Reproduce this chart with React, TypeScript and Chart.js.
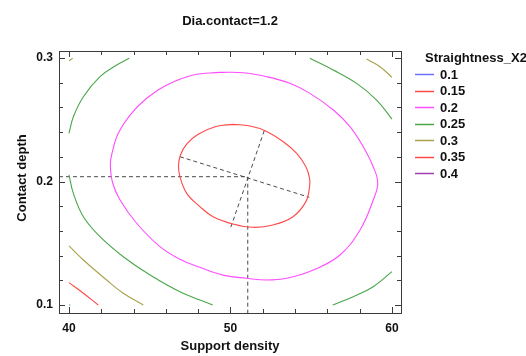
import React, { useEffect, useRef } from "react";
import Chart from "chart.js/auto";

const TITLE = "Dia.contact=1.2";
const X_TITLE = "Support density";
const Y_TITLE = "Contact depth";
const LEGEND_TITLE = "Straightness_X2";

const X_TICKS = [40, 42, 44, 46, 48, 50, 52, 54, 56, 58, 60];
const X_LABELS = ["40", "50", "60"];
const X_LABEL_VALUES = [40, 50, 60];
const Y_TICKS = [0.1, 0.12, 0.14, 0.16, 0.18, 0.2, 0.22, 0.24, 0.26, 0.28, 0.3];
const Y_LABELS = ["0.1", "0.2", "0.3"];
const Y_LABEL_VALUES = [0.1, 0.2, 0.3];

const LEVELS = ["0.1", "0.15", "0.2", "0.25", "0.3", "0.35", "0.4"];
const LEVEL_COLORS = ["#6a74ff", "#ff4848", "#ff4cff", "#4aa64a", "#a9a24a", "#ff4848", "#a43cb4"];

// contour at 0.15 (closed)
const C015: number[][] = [
  [50.17, 0.2463], [51.21, 0.2449], [52.14, 0.2411], [53.27, 0.2322], [54.1, 0.2228],
  [54.67, 0.212], [54.9, 0.2026], [54.9, 0.1958], [54.66, 0.1835], [53.87, 0.1715],
  [52.63, 0.1648], [51.39, 0.1629], [50.15, 0.1656], [48.92, 0.1715], [48.11, 0.1796],
  [47.29, 0.1904], [46.87, 0.2039], [46.78, 0.2125], [46.9, 0.2215], [47.3, 0.2305],
  [48.0, 0.2383], [49.1, 0.2445], [50.17, 0.2463],
];
// contour at 0.2 (closed)
const C020: number[][] = [
  [49.35, 0.2884], [50.79, 0.2881], [52.24, 0.2849], [53.68, 0.2795], [54.92, 0.2714],
  [56.37, 0.2579], [57.4, 0.2444], [58.22, 0.2282], [58.84, 0.212],
  [59.12, 0.1988], [58.84, 0.185], [58.02, 0.1607], [56.78, 0.1405],
  [55.13, 0.1283], [53.48, 0.1216], [52.24, 0.1202], [51.0, 0.1216], [49.6, 0.124],
  [48.11, 0.1305], [46.8, 0.1375], [45.63, 0.1472], [44.19, 0.1662], [43.16, 0.185],
  [42.7, 0.199], [42.56, 0.2135], [42.66, 0.2228], [43.05, 0.239],
  [43.78, 0.2538], [44.81, 0.2674], [46.05, 0.2781], [47.7, 0.2862], [49.35, 0.2884],
];
// contours at 0.25
const C025_TL: number[][] = [
  [40.0, 0.239], [40.27, 0.2525], [40.89, 0.2687], [41.92, 0.2849], [42.95, 0.2943], [43.73, 0.2998],
];
const C025_TR: number[][] = [
  [54.92, 0.2998], [56.37, 0.2903], [57.81, 0.2795], [59.05, 0.266], [60.0, 0.2506],
];
const C025_BL: number[][] = [
  [40.0, 0.2053], [40.27, 0.1904], [40.89, 0.1715], [41.92, 0.1553], [43.36, 0.1391],
  [45.02, 0.1243], [46.87, 0.1108], [48.9, 0.1],
];
const C025_BR: number[][] = [
  [56.33, 0.1], [57.6, 0.1067], [58.84, 0.1148], [60.0, 0.127],
];
const C025_DOT: number[][] = [[40.0, 0.1], [40.05, 0.1004]];
// contours at 0.3
const C030_BL: number[][] = [
  [40.0, 0.1478], [40.89, 0.1364], [42.33, 0.1202], [43.36, 0.1095], [44.6, 0.1],
];
const C030_TR: number[][] = [[58.43, 0.2992], [59.26, 0.293], [60.0, 0.2844]];
const C030_TL: number[][] = [[40.0, 0.2978], [40.23, 0.2998]];
// contour at 0.35
const C035_BL: number[][] = [[40.0, 0.1181], [40.89, 0.1095], [41.81, 0.1]];

// optimum and principal axes
const CENTER = [51.07, 0.2039];
const AXIS_A: number[][] = [[46.87, 0.2201], [54.88, 0.1872]];
const AXIS_B: number[][] = [[52.09, 0.2411], [50.01, 0.1626]];

const X_MIN = 39.38;
const X_MAX = 60.56;
const Y_MIN = 0.0935;
const Y_MAX = 0.3057;

const toPts = (arr: number[][]) => arr.map(([x, y]) => ({ x, y }));

export default function App() {
  const ref = useRef<HTMLCanvasElement | null>(null);

  useEffect(() => {
    const canvas = ref.current;
    if (!canvas) return;

    const contour = (arr: number[][], color: string, tension = 0.4) => ({
      data: toPts(arr),
      borderColor: color,
      backgroundColor: color,
      borderWidth: 1.1,
      pointRadius: 0,
      showLine: true,
      tension,
      fill: false,
    });
    const dashed = (arr: number[][]) => ({
      data: toPts(arr),
      borderColor: "#4a4a4a",
      borderWidth: 1,
      borderDash: [4, 3],
      pointRadius: 0,
      showLine: true,
      tension: 0,
      fill: false,
    });

    const framePlugin = {
      id: "framePlugin",
      afterDraw(chart: any) {
        const ctx = chart.ctx;
        const { left, right, top, bottom } = chart.chartArea;
        const xs = chart.scales.x;
        const ys = chart.scales.y;
        ctx.save();
        ctx.strokeStyle = "#3c3c3c";
        ctx.lineWidth = 1;
        ctx.strokeRect(Math.round(left) + 0.5, Math.round(top) + 0.5, Math.round(right - left), Math.round(bottom - top));
        ctx.beginPath();
        X_TICKS.forEach((v) => {
          const px = Math.round(xs.getPixelForValue(v)) + 0.5;
          const len = X_LABEL_VALUES.includes(v) ? 6 : 4;
          ctx.moveTo(px, bottom);
          ctx.lineTo(px, bottom - len);
          ctx.moveTo(px, top);
          ctx.lineTo(px, top + len);
        });
        Y_TICKS.forEach((v) => {
          const py = Math.round(ys.getPixelForValue(v)) + 0.5;
          const major = Y_LABEL_VALUES.some((m) => Math.abs(m - v) < 1e-9);
          const len = major ? 6 : 4;
          ctx.moveTo(left, py);
          ctx.lineTo(left + len, py);
          ctx.moveTo(right, py);
          ctx.lineTo(right - len, py);
        });
        ctx.stroke();

        ctx.fillStyle = "#111";
        ctx.font = "bold 12px 'Liberation Sans', Arial, sans-serif";
        ctx.textAlign = "center";
        ctx.textBaseline = "middle";
        X_LABELS.forEach((t, i) => {
          ctx.fillText(t, xs.getPixelForValue(X_LABEL_VALUES[i]), bottom + 16);
        });
        ctx.textAlign = "right";
        Y_LABELS.forEach((t, i) => {
          ctx.fillText(t, left - 6, ys.getPixelForValue(Y_LABEL_VALUES[i]));
        });

        ctx.font = "bold 13px 'Liberation Sans', Arial, sans-serif";
        ctx.textAlign = "center";
        ctx.fillText(X_TITLE, (left + right) / 2, bottom + 33);
        ctx.fillText(TITLE, 230, 21);
        ctx.save();
        ctx.translate(22, 178);
        ctx.rotate(-Math.PI / 2);
        ctx.fillText(Y_TITLE, 0, 0);
        ctx.restore();

        ctx.textAlign = "left";
        ctx.fillText(LEGEND_TITLE, 425, 58);
        LEVELS.forEach((lv, i) => {
          const y = 74 + i * 16.5;
          ctx.strokeStyle = LEVEL_COLORS[i];
          ctx.lineWidth = 1.5;
          ctx.beginPath();
          ctx.moveTo(415, Math.round(y) + 0.5);
          ctx.lineTo(434, Math.round(y) + 0.5);
          ctx.stroke();
          ctx.fillStyle = "#111";
          ctx.fillText(lv, 440, y + 1);
        });
        ctx.restore();
      },
    };

    const chart = new Chart(canvas, {
      type: "scatter",
      data: {
        datasets: [
          contour(C015, LEVEL_COLORS[1]),
          contour(C020, LEVEL_COLORS[2]),
          contour(C025_TL, LEVEL_COLORS[3]),
          contour(C025_TR, LEVEL_COLORS[3]),
          contour(C025_BL, LEVEL_COLORS[3]),
          contour(C025_BR, LEVEL_COLORS[3]),
          contour(C025_DOT, LEVEL_COLORS[3], 0),
          contour(C030_BL, LEVEL_COLORS[4]),
          contour(C030_TR, LEVEL_COLORS[4]),
          contour(C030_TL, LEVEL_COLORS[4], 0),
          contour(C035_BL, LEVEL_COLORS[5]),
          dashed([[X_MIN, CENTER[1]], CENTER]),
          dashed([CENTER, [CENTER[0], Y_MIN]]),
          dashed(AXIS_A),
          dashed(AXIS_B),
        ] as any,
      },
      options: {
        animation: false,
        responsive: false,
        maintainAspectRatio: false,
        layout: { padding: { left: 59, top: 51, right: 125, bottom: 43 } },
        plugins: { legend: { display: false }, tooltip: { enabled: false }, title: { display: false } },
        scales: {
          x: { type: "linear", min: X_MIN, max: X_MAX, display: false },
          y: { type: "linear", min: Y_MIN, max: Y_MAX, display: false },
        },
      },
      plugins: [framePlugin],
    } as any);

    return () => chart.destroy();
  }, []);

  return (
    <div style={{ position: "fixed", left: 0, top: 0, width: 526, height: 356, background: "#fff" }}>
      <canvas ref={ref} width={526} height={356} style={{ width: 526, height: 356, display: "block" }} />
    </div>
  );
}
